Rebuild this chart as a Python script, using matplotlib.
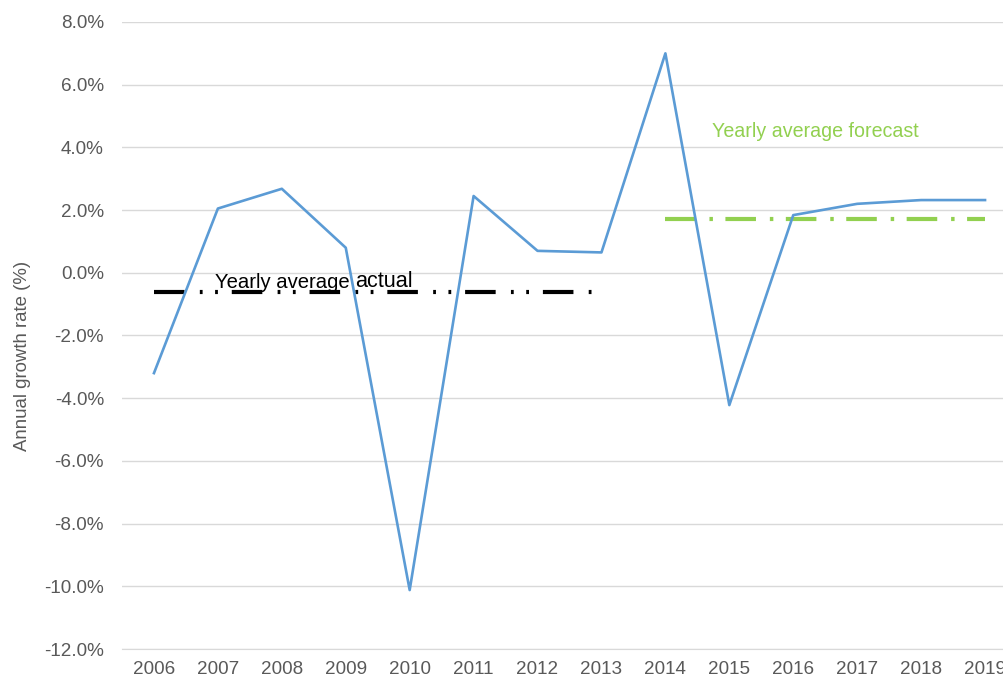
import matplotlib
matplotlib.use("Agg")
import matplotlib.pyplot as plt
from matplotlib.ticker import FuncFormatter, MultipleLocator

years = [2006, 2007, 2008, 2009, 2010, 2011, 2012, 2013, 2014, 2015, 2016, 2017, 2018, 2019]
growth = [-3.2, 2.05, 2.68, 0.8, -10.12, 2.45, 0.7, 0.65, 7.0, -4.22, 1.84, 2.2, 2.32, 2.32]
avg_actual = -0.6
avg_actual_years = [2006, 2013]
avg_forecast = 1.73
avg_forecast_years = [2014, 2019]

plt.rcParams['font.family'] = ['Liberation Sans', 'DejaVu Sans']
plt.rcParams['lines.scale_dashes'] = False

fig = plt.figure(figsize=(10.04, 6.81), dpi=100)
ax = fig.add_axes([122/1004, 1-649/681, (1017-122)/1004, (649-22)/681])

ax.set_xlim(2005.5, 2019.5)
ax.set_ylim(-12, 8)
ax.yaxis.set_major_locator(MultipleLocator(2))
ax.yaxis.set_major_formatter(FuncFormatter(lambda v, p: f"{v:.1f}%"))
ax.set_xticks(years)
ax.set_xticklabels([str(y) for y in years])
ax.grid(axis='y', color='#D9D9D9', lw=1)
ax.set_axisbelow(True)
for s in ['top', 'right', 'left']:
    ax.spines[s].set_visible(False)
ax.spines['bottom'].set_color('#D9D9D9')
ax.tick_params(axis='both', length=0, labelsize=13.6, colors='#595959')
ax.tick_params(axis='y', pad=13)
ax.tick_params(axis='x', pad=9)
fig.text(23/1004, 1-356/681, 'Annual growth rate (%)', rotation=90, fontsize=13.4,
         color='#595959', ha='center', va='center')

ax.plot(years, growth, color='#5B9BD5', lw=1.9, zorder=3)

l1, = ax.plot(avg_actual_years, [avg_actual]*2, color='black', lw=3, zorder=2)
l1.set_dashes((22, 11, 2, 9, 2, 10))
l1.set_dash_capstyle('butt')
l2, = ax.plot(avg_forecast_years, [avg_forecast]*2, color='#92D050', lw=3, zorder=2)
l2.set_dashes((22, 10, 2.5, 9))
l2.set_dash_capstyle('butt')

t1 = ax.text(2006.95, -0.5, 'Yearly average ', fontsize=14.6, color='black', va='baseline', ha='left')
ax.annotate('actual', xy=(1, 0), xycoords=t1, fontsize=15.6, color='black', va='bottom', ha='left')

ax.text(2016.34, 4.52, 'Yearly average forecast', fontsize=14.1, color='#92D050', ha='center', va='center')

fig.savefig('out.png', dpi=100)
